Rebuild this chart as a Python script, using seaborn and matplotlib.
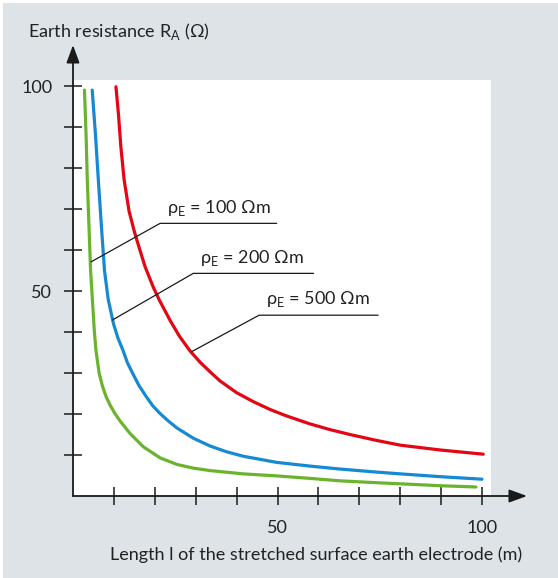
import pandas as pd
import matplotlib.pyplot as plt
import seaborn as sns
from matplotlib.patches import Rectangle

# values (length l in m, resistance R_A in ohm)
green_x = [2.8, 3.2, 3.5, 3.9, 4.3, 5.2, 5.6, 6.4, 7.2, 8.1, 9.0, 10.2, 11.5, 13.9, 17.2, 21.3, 25.4,
           29.4, 33.5, 41.6, 49.8, 57.9, 65.3, 73, 81.6, 90, 98.5]
green_y = [99, 88, 77, 66, 55, 40.5, 35.6, 29.9, 26.8, 24.2, 22.3, 20.2, 18.3, 15.3, 12.0, 9.3, 7.7,
           6.8, 6.2, 5.4, 4.9, 4.3, 3.7, 3.3, 2.9, 2.5, 2.2]

blue_x = [4.7, 5.5, 6.2, 7.0, 7.7, 8.6, 9.9, 11.0, 12.2, 13.3, 14.6, 16.1, 17.8, 19.5, 21.3, 23.3, 25.4,
          29.4, 33.5, 37.5, 41.6, 49.8, 57.9, 65, 73.4, 80, 90, 100]
blue_y = [99, 88, 77, 65, 55, 48, 42, 38.5, 35.6, 32.5, 29.9, 27, 24.4, 22.0, 20.1, 18.3, 16.6,
          14.1, 12.2, 10.8, 9.7, 8.2, 7.3, 6.6, 5.9, 5.4, 4.7, 4.1]

red_x = [10.5, 11.1, 11.7, 12.5, 13.7, 15, 16.2, 17.6, 19.6, 21.1, 23.7, 26, 28.6, 31, 33.5, 35.9, 40,
         44.1, 48.2, 52, 57.9, 62.8, 67.7, 74, 80, 90, 100.3]
red_y = [99.8, 93.3, 85.2, 77.1, 69.5, 64.5, 60.5, 56, 51, 47.8, 42.9, 39, 35.4, 32.7, 30.3, 28.1, 25.2,
         23.0, 21.1, 19.6, 17.6, 16.2, 15.0, 13.6, 12.4, 11.2, 10.2]

series = ['100', '200', '500']
colors = ['#6ab42d', '#1689d3', '#e30613']

x_ticks = [10, 20, 30, 40, 50, 60, 70, 80, 90, 100]
x_ticklabels = ['', '', '', '', '50', '', '', '', '', '100']
y_ticks = [10, 20, 30, 40, 50, 60, 70, 80, 90, 100]
y_ticklabels = ['', '', '', '', '50', '', '', '', '', '100']

# label leader lines: point on curve, knee, end of underline
leaders = {
    '100': [(4.4, 57.1), (21.3, 66.5), (49.8, 66.5)],
    '200': [(9.6, 42.9), (29.4, 54.3), (58.8, 54.3)],
    '500': [(29.0, 35.2), (45.5, 44.1), (74.6, 44.1)],
}

df = pd.concat([
    pd.DataFrame({'l': green_x, 'R': green_y, 'rho': '100'}),
    pd.DataFrame({'l': blue_x, 'R': blue_y, 'rho': '200'}),
    pd.DataFrame({'l': red_x, 'R': red_y, 'rho': '500'}),
])

sns.set_style("white")
plt.rcParams['font.family'] = ['Lato', 'DejaVu Sans']
plt.rcParams['mathtext.fontset'] = 'custom'
plt.rcParams['mathtext.rm'] = 'Lato'

fig = plt.figure(figsize=(5.58, 5.78), dpi=100)
fig.patch.set_facecolor('white')
fig.patches.append(Rectangle((3 / 558, 0), 1, 575 / 578, transform=fig.transFigure,
                             facecolor='#dde3e7', edgecolor='none', zorder=-10))

ax = fig.add_axes([73 / 558, 82 / 578, 454 / 558, 451 / 578])
ax.set_facecolor('none')
ax.set_xlim(0, 111)
ax.set_ylim(0, 110)

ax.add_patch(Rectangle((0, 0), 102.2, 101.5, facecolor='white', edgecolor='none', zorder=0))

sns.lineplot(data=df, x='l', y='R', hue='rho', palette=dict(zip(series, colors)),
             estimator=None, sort=False, lw=2.3, legend=False, ax=ax, zorder=3)
for ln in ax.lines:
    ln.set_solid_joinstyle('round')

for s in series:
    pts = leaders[s]
    ax.plot([p[0] for p in pts], [p[1] for p in pts], color='#1a1a1a', lw=0.9, zorder=4)
    ax.text(pts[1][0] + 1.6, pts[1][1] + 1.4, 'ρ$_\\mathregular{E}$ = ' + s + ' Ωm',
            fontsize=13, color='#222222', va='bottom', ha='left')

for sp in ax.spines.values():
    sp.set_visible(False)

# axes with arrow heads
arrow = dict(arrowstyle='-|>,head_length=0.6,head_width=0.22', mutation_scale=18,
             color='#1a1a1a', lw=1.3, shrinkA=0, shrinkB=0)
ax.annotate('', xy=(111, 0), xytext=(0, 0), arrowprops=arrow, annotation_clip=False)
ax.annotate('', xy=(0, 110), xytext=(0, 0), arrowprops=arrow, annotation_clip=False)

ax.set_xticks(x_ticks)
ax.set_xticklabels(x_ticklabels)
ax.set_yticks(y_ticks)
ax.set_yticklabels(y_ticklabels)
ax.tick_params(axis='both', direction='inout', length=13, width=1.1, color='#1a1a1a',
               labelsize=13, labelcolor='#222222', bottom=True, left=True)
ax.tick_params(axis='x', pad=11)
ax.tick_params(axis='y', pad=8.5)

ax.set_xlabel('Length l of the stretched surface earth electrode (m)', fontsize=13,
              color='#222222')
ax.xaxis.set_label_coords((316 - 73) / 454, -50 / 451)
ax.set_ylabel('')
fig.text(28 / 558, 1 - 32 / 578, 'Earth resistance R$_\\mathregular{A}$ (Ω)', fontsize=13,
         color='#222222', ha='left', va='center')

plt.savefig('out.png', dpi=100)
plt.close()
